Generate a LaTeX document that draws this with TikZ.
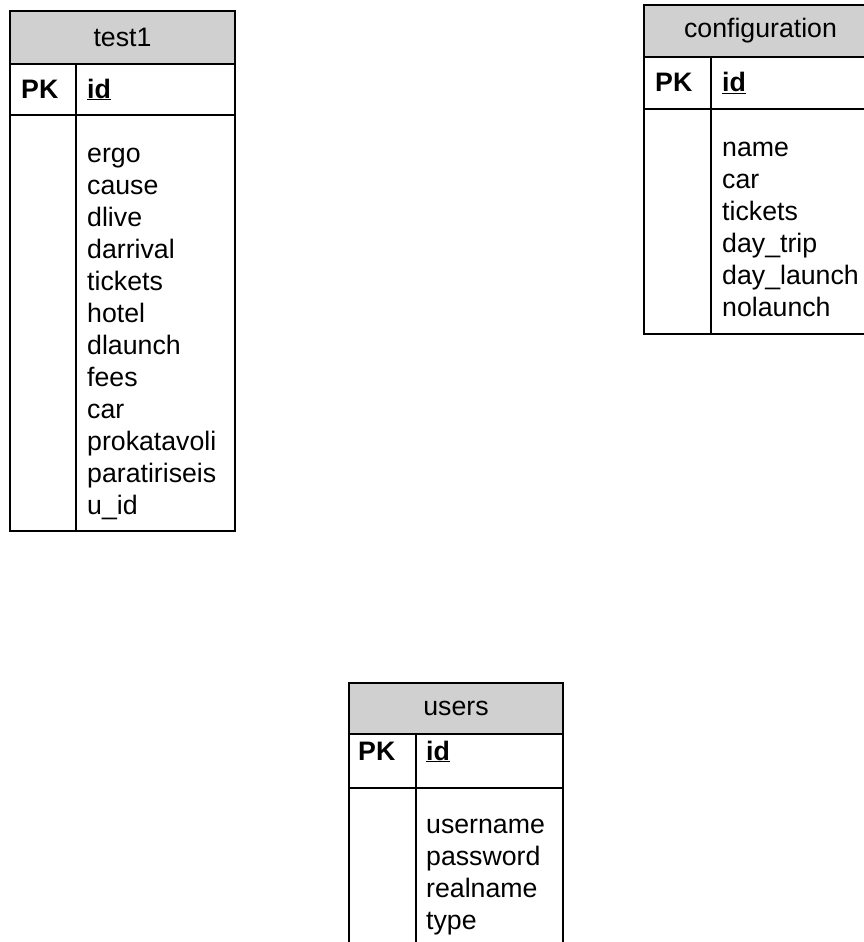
\documentclass[tikz,border=0pt]{standalone}
\usepackage{fontspec}
\setmainfont{Liberation Sans}
\definecolor{hdrgray}{HTML}{D0D0D0}
\newcommand{\fz}{\fontsize{26.7}{32}\selectfont}
\tikzset{
  cell/.style={draw, line width=2pt, rectangle, inner sep=0pt, anchor=north west, font=\fz},
  hdrcell/.style={cell, fill=hdrgray},
  txt/.style={inner sep=0pt, anchor=base west, font=\fz},
  fieldlist/.style={inner sep=0pt, anchor=base west, font=\fz, align=left},
}
\begin{document}
\begin{tikzpicture}[x=1pt,y=-1pt]
\clip (0,0) rectangle (864,942);
\fill[white] (0,0) rectangle (864,942);

% ---------- test1 ----------
\node[hdrcell, minimum width=225, minimum height=53] (t1h) at (9,10) {test1};
\node[cell, minimum width=66, minimum height=51] (t1pk) at (9,63) {};
\node[cell, minimum width=159, minimum height=51] (t1id) at (75,63) {};
\node[cell, minimum width=66, minimum height=416] (t1k) at (9,114) {};
\node[cell, minimum width=159, minimum height=416] (t1f) at (75,114) {};
\node[txt] (t1pkt) at (21,98) {\textbf{PK}};
\node[txt] (t1idt) at (87,98) {\underline{\textbf{id}}};
% base anchor = baseline of the last line
\node[fieldlist] (t1ft) at (87,514) {ergo\\cause\\dlive\\darrival\\tickets\\hotel\\dlaunch\\fees\\car\\prokatavoli\\paratiriseis\\u\_id};

% ---------- configuration ----------
\node[hdrcell, minimum width=233, minimum height=52] (cfh) at (643,4) {configuration};
\node[cell, minimum width=67, minimum height=52] (cfpk) at (643,56) {};
\node[cell, minimum width=166, minimum height=52] (cfid) at (710,56) {};
\node[cell, minimum width=67, minimum height=225] (cfk) at (643,108) {};
\node[cell, minimum width=166, minimum height=225] (cff) at (710,108) {};
\node[txt] (cfpkt) at (655,92) {\textbf{PK}};
\node[txt] (cfidt) at (722,92) {\underline{\textbf{id}}};
\node[fieldlist] (cfft) at (722,316) {name\\car\\tickets\\day\_trip\\day\_launch\\nolaunch};

% ---------- users ----------
\node[hdrcell, minimum width=214, minimum height=51] (ush) at (348,682) {users};
\node[cell, minimum width=67, minimum height=54] (uspk) at (348,733) {};
\node[cell, minimum width=147, minimum height=54] (usid) at (415,733) {};
\node[cell, minimum width=67, minimum height=180] (usk) at (348,787) {};
\node[cell, minimum width=147, minimum height=180] (usf) at (415,787) {};
\node[txt] (uspkt) at (358,760) {\textbf{PK}};
\node[txt] (usidt) at (426,760) {\underline{\textbf{id}}};
\node[fieldlist] (usft) at (426,929) {username\\password\\realname\\type};
\end{tikzpicture}
\end{document}
